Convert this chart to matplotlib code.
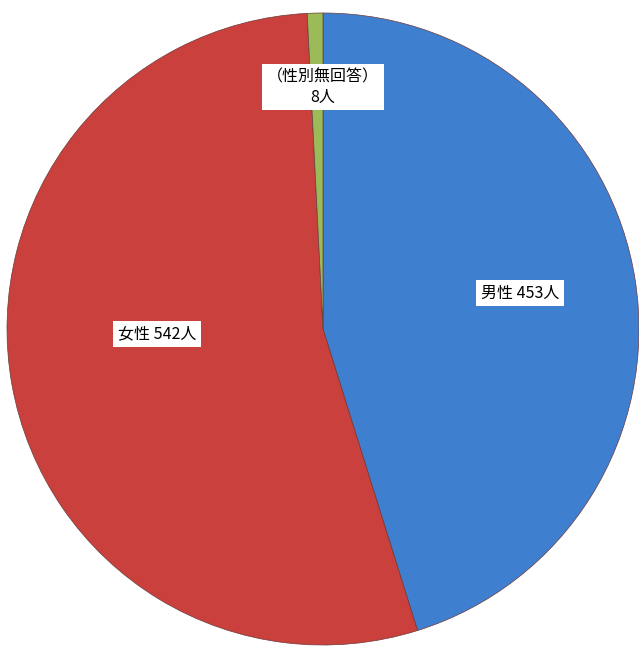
import matplotlib
matplotlib.use("Agg")
import matplotlib.pyplot as plt

plt.rcParams['font.family'] = ['Noto Sans CJK JP', 'DejaVu Sans']

categories = ['男性', '女性', '（性別無回答）']
values = [453, 542, 8]
colors = ['#3f7fd0', '#c9403c', '#9bbb59']
labels = ['男性 453人', '女性 542人', '（性別無回答）\n8人']

fig = plt.figure(figsize=(6.39, 6.49), dpi=100)
ax = fig.add_axes([0, 0, 1, 1])

cx, cy, r = 323, 649 - 329, 316
wedges, _ = ax.pie(values, colors=colors, startangle=90, counterclock=False,
                   center=(cx, cy), radius=r, frame=True,
                   wedgeprops=dict(edgecolor='#6a3a3a', linewidth=0.5))
ax.set_xlim(0, 639)
ax.set_ylim(0, 649)
ax.set_aspect('equal')
ax.axis('off')

label_pos = [(520, 649 - 293), (157, 649 - 334), (323, 649 - 87)]
for txt, (x, y) in zip(labels, label_pos):
    ax.text(x, y, txt, ha='center', va='center', fontsize=11.5,
            linespacing=1.25,
            bbox=dict(boxstyle='square,pad=0.3', facecolor='white', edgecolor='none'))

fig.savefig('out.png', dpi=100)
